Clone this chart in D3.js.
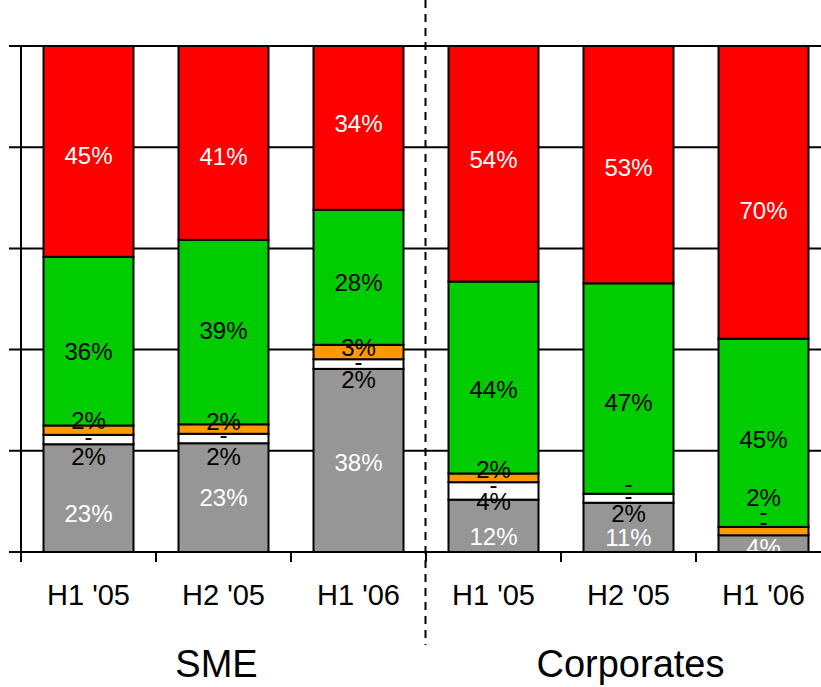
<!DOCTYPE html>
<html>
<head>
<meta charset="utf-8">
<script src="https://cdn.jsdelivr.net/npm/d3@7"></script>
<style>
  html, body { margin: 0; padding: 0; background: #fff; }
  svg { display: block; font-family: "Liberation Sans", Arial, sans-serif; }
</style>
</head>
<body>
<svg id="chart" width="821" height="687"></svg>
<script>
// Periods on the x axis, two segments of three half-years each
const categories = ["H1 '05", "H2 '05", "H1 '06", "H1 '05", "H2 '05", "H1 '06"];
const groups = ["SME", "Corporates"];

// Shares per period (stacked bottom to top), in percent as labelled
const grey   = [23, 23, 38, 12, 11, 4];
const white  = [2, 2, 2, 4, 2, 0];
const nil    = [0, 0, 0, 0, 0, 0];
const orange = [2, 2, 3, 2, 0, 2];
const green  = [36, 39, 28, 44, 47, 45];
const red    = [45, 41, 34, 54, 53, 70];

const yTicks = [0, 0.2, 0.4, 0.6, 0.8, 1];

const seriesKeys = ["grey", "white", "nil", "orange", "green", "red"];
const seriesData = { grey, white, nil, orange, green, red };
const fills = { grey: "#969696", white: "#ffffff", nil: "#ffffff", orange: "#ff9900", green: "#00cc00", red: "#ff0000" };
const textFill = { grey: "#ffffff", white: "#000000", nil: "#000000", orange: "#000000", green: "#000000", red: "#ffffff" };

// hand-placed vertical offsets (px) so thin-segment labels do not collide
const labelShift = {
  grey:   [15, 0, 2, 11, 10, 4],
  white:  [17, 18, 16, 11, 15, -14],
  nil:    [2, 1, 2, 2, 2, -24],
  orange: [-10, -7, -4, -8, -10, -33],
  green:  [10, -2, 5, 12, 14, 7],
  red:    [4, 14, -4, -4, 3, 18]
};

const rows = categories.map((c, i) => {
  const r = { idx: i, cat: c };
  seriesKeys.forEach(k => r[k] = seriesData[k][i]);
  return r;
});

const svg = d3.select("#chart");
const plotLeft = 21, plotTop = 46, plotBottom = 552, fullRight = 831;

const x = d3.scaleBand()
  .domain(d3.range(categories.length))
  .range([plotLeft, fullRight])
  .paddingInner(1 / 3)
  .paddingOuter(1 / 6);

const y = d3.scaleLinear().domain([0, 1]).range([plotBottom, plotTop]);

const stack = d3.stack().keys(seriesKeys).offset(d3.stackOffsetExpand);
const layers = stack(rows);

// horizontal gridlines with outward ticks on the left
svg.append("g")
  .selectAll("line")
  .data(yTicks)
  .join("line")
  .attr("x1", 9).attr("x2", 821)
  .attr("y1", d => y(d)).attr("y2", d => y(d))
  .attr("stroke", "#000").attr("stroke-width", 2);

// stacked segments
svg.append("g")
  .selectAll("g")
  .data(layers)
  .join("g")
  .attr("fill", d => fills[d.key])
  .selectAll("rect")
  .data(d => d)
  .join("rect")
  .attr("x", (d, i) => x(i))
  .attr("width", x.bandwidth())
  .attr("y", d => y(d[1]))
  .attr("height", d => Math.max(0, y(d[0]) - y(d[1])))
  .attr("stroke", "#000")
  .attr("stroke-width", 2);

// axes
const step = x.step();
svg.append("line")
  .attr("x1", plotLeft).attr("x2", plotLeft)
  .attr("y1", plotTop).attr("y2", plotBottom + 10)
  .attr("stroke", "#000").attr("stroke-width", 2);
svg.append("line")
  .attr("x1", 9).attr("x2", 821)
  .attr("y1", plotBottom).attr("y2", plotBottom)
  .attr("stroke", "#000").attr("stroke-width", 2);
svg.append("g")
  .selectAll("line")
  .data(d3.range(1, categories.length))
  .join("line")
  .attr("x1", i => plotLeft + i * step).attr("x2", i => plotLeft + i * step)
  .attr("y1", plotBottom).attr("y2", plotBottom + 10)
  .attr("stroke", "#000").attr("stroke-width", 2);

// category labels
svg.append("g")
  .selectAll("text")
  .data(categories)
  .join("text")
  .attr("x", (d, i) => x(i) + x.bandwidth() / 2)
  .attr("y", 605)
  .attr("text-anchor", "middle")
  .attr("font-size", 29)
  .attr("fill", "#000")
  .text(d => d);

// segment labels, clipped to the plot area
svg.append("clipPath").attr("id", "plotClip")
  .append("rect").attr("x", 0).attr("y", 0).attr("width", 821).attr("height", plotBottom - 1);

const fmt = v => v === 0 ? "-" : v + "%";
svg.append("g")
  .attr("clip-path", "url(#plotClip)")
  .selectAll("g")
  .data(layers)
  .join("g")
  .attr("fill", d => textFill[d.key])
  .each(function (layer) {
    d3.select(this).selectAll("text")
      .data(layer)
      .join("text")
      .attr("x", (d, i) => x(i) + x.bandwidth() / 2)
      .attr("y", (d, i) => y((d[0] + d[1]) / 2) + labelShift[layer.key][i])
      .attr("dy", "0.35em")
      .attr("text-anchor", "middle")
      .attr("font-size", 24)
      .text((d, i) => fmt(seriesData[layer.key][i]));
  });

// segment divider
const divX = plotLeft + 3 * step - 0.5;
svg.append("line")
  .attr("x1", divX).attr("x2", divX)
  .attr("y1", 0).attr("y2", 645)
  .attr("stroke", "#000").attr("stroke-width", 2)
  .attr("stroke-dasharray", "8,6");

// segment titles
const groupShift = [-7, 2];
svg.append("g")
  .selectAll("text")
  .data(groups)
  .join("text")
  .attr("x", (d, g) => (x(g * 3) + x(g * 3 + 2) + x.bandwidth()) / 2 + groupShift[g])
  .attr("y", 677)
  .attr("text-anchor", "middle")
  .attr("font-size", 38)
  .attr("fill", "#000")
  .text(d => d);
</script>
</body>
</html>
